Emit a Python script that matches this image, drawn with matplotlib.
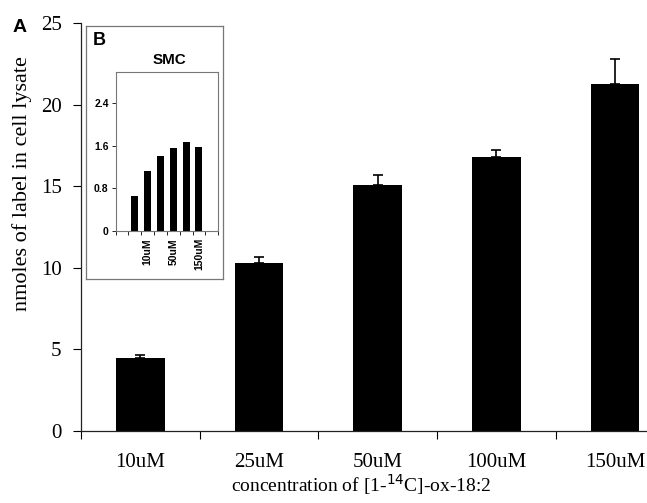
import matplotlib
matplotlib.use("Agg")
import matplotlib.pyplot as plt

# main panel A
conc_labels = ["10uM", "25uM", "50uM", "100uM", "150uM"]
nmoles = [4.44, 10.27, 15.07, 16.78, 21.27]
nmoles_err = [0.18, 0.39, 0.60, 0.42, 1.53]

# inset panel B (SMC)
smc_vals = [0.66, 1.12, 1.41, 1.56, 1.68, 1.58]
smc_labels = ["", "10uM", "", "50uM", "", "150uM"]

SERIF = ["Liberation Serif", "DejaVu Serif"]
SANS = ["Liberation Sans", "DejaVu Sans"]

fig = plt.figure(figsize=(6.47, 5.03), dpi=100)

ax = fig.add_axes([0.1252, 0.1437, 0.9173, 0.8106])
x = range(len(conc_labels))
ax.bar(x, nmoles, width=0.41, color="black", zorder=2)
ax.errorbar(x, nmoles, yerr=[[0] * len(nmoles), nmoles_err], fmt="none",
            ecolor="black", elinewidth=1.2, capsize=3.5, capthick=1.2, zorder=3)
ax.set_xlim(-0.5, len(conc_labels) - 0.5)
ax.set_ylim(0, 25)
ax.set_yticks([0, 5, 10, 15, 20, 25])
ax.set_xticks(x)
ax.set_xticklabels(conc_labels, family=SERIF, fontsize=15)
ax.set_xticks([i - 0.5 for i in range(len(conc_labels) + 1)], minor=True)
ax.tick_params(axis="x", which="major", length=0, pad=16)
ax.tick_params(axis="x", which="minor", length=6, width=0.8, direction="out")
ax.tick_params(axis="y", length=6, width=0.8, pad=8)
for lab in ax.get_yticklabels():
    lab.set_family(SERIF)
    lab.set_fontsize(15)
for s in ["top", "right"]:
    ax.spines[s].set_visible(False)
for s in ["left", "bottom"]:
    ax.spines[s].set_linewidth(0.9)
    ax.spines[s].set_color("#222222")
ax.set_ylabel("nmoles of label in cell lysate", family=SERIF, fontsize=16, va="center")
ax.yaxis.set_label_coords(-0.099, 0.607)
ax.set_xlabel("concentration of [1-$^{14}$C]-ox-18:2", family=SERIF, fontsize=14, va="center")
ax.xaxis.set_label_coords(0.473, -0.133)

# inset frame
frame = fig.add_axes([0.1329, 0.4453, 0.2118, 0.5030])
frame.set_xticks([])
frame.set_yticks([])
for s in frame.spines.values():
    s.set_color("#777777")
    s.set_linewidth(0.9)
frame.text(0.05, 0.975, "B", transform=frame.transAxes, ha="left", va="top",
           family=SANS, fontsize=13, fontweight="bold")
frame.text(0.61, 0.866, "SMC", transform=frame.transAxes, ha="center", va="center",
           family=SANS, fontsize=11, fontweight="bold")

ins = fig.add_axes([0.1788, 0.5408, 0.1584, 0.3169])
xi = range(len(smc_vals))
ins.bar(xi, smc_vals, width=0.55, color="black")
ins.set_xlim(-1.5, len(smc_vals) + 0.5)
ins.set_ylim(0, 3.0)
ins.set_yticks([0, 0.8, 1.6, 2.4])
ins.set_yticklabels(["0", "0.8", "1.6", "2.4"], family=SANS, fontsize=7.5, fontweight="bold")
ins.set_xticks(list(xi))
ins.set_xticklabels(smc_labels, family=SANS, fontsize=7.5, fontweight="bold", rotation=90)
ins.set_xticks([i - 0.5 for i in range(-1, len(smc_vals) + 2)], minor=True)
ins.tick_params(axis="x", which="major", length=0, pad=5)
ins.tick_params(axis="x", which="minor", length=3, width=0.6)
ins.tick_params(axis="y", length=3, width=0.6, pad=2)
for s in ins.spines.values():
    s.set_color("#777777")
    s.set_linewidth(0.8)

fig.text(0.020, 0.945, "A", family=SANS, fontsize=14, fontweight="bold",
         ha="left", va="center")

fig.savefig("out.png", dpi=100)
